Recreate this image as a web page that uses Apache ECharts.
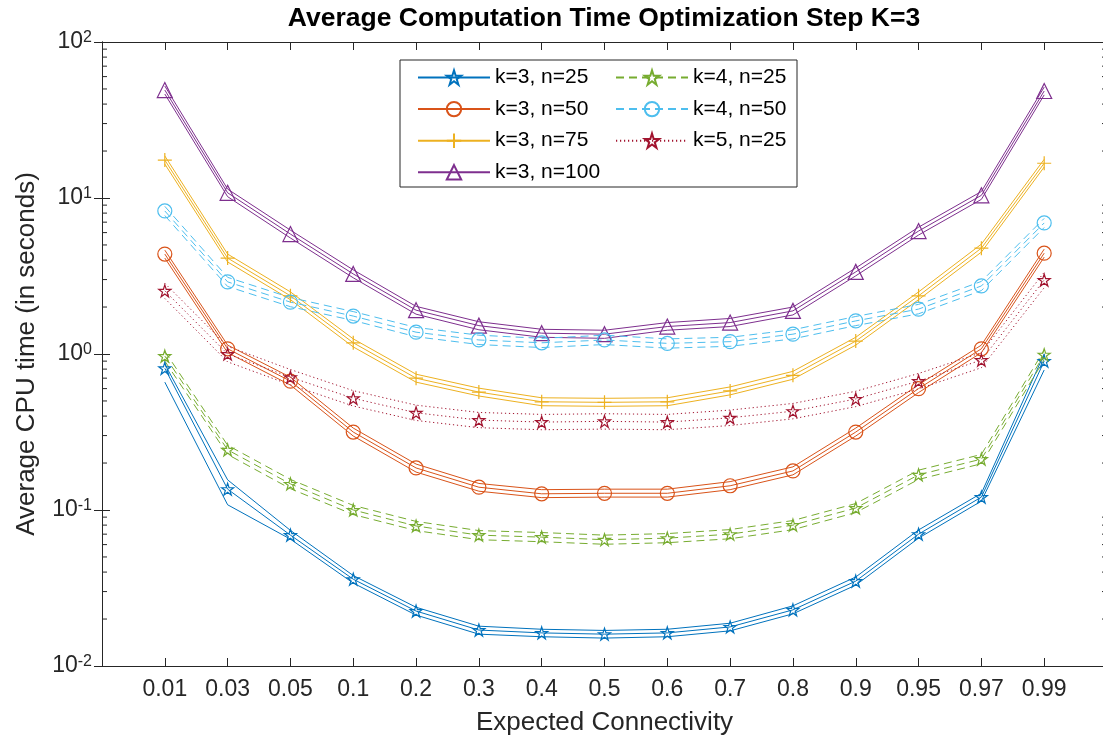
<!DOCTYPE html>
<html><head><meta charset="utf-8">
<script src="https://cdn.jsdelivr.net/npm/echarts@6/dist/echarts.min.js"></script>
<style>html,body{margin:0;padding:0;background:#fff;overflow:hidden}#c{width:1103px;height:743px}</style>
</head><body><div id="c"></div><script>
const categories = ['0.01','0.03','0.05','0.1','0.2','0.3','0.4','0.5','0.6','0.7','0.8','0.9','0.95','0.97','0.99'];
const yTickLabels = ['10^-2','10^-1','10^0','10^1','10^2'];

// k=3, n=25
const k3n25 = [0.81,0.136,0.069,0.036,0.0225,0.017,0.0163,0.016,0.0163,0.0178,0.0229,0.035,0.070,0.121,0.90];
const k3n25Hi = [0.86,0.156,0.074,0.038,0.0238,0.0180,0.0172,0.0169,0.0172,0.0188,0.0243,0.0372,0.0745,0.128,1.0];
const k3n25Lo = [0.66,0.108,0.065,0.034,0.0212,0.0160,0.0154,0.0151,0.0154,0.0168,0.0216,0.033,0.066,0.114,0.79];
// k=3, n=50
const k3n50 = [4.37,1.08,0.67,0.316,0.186,0.14,0.127,0.128,0.128,0.143,0.178,0.316,0.60,1.08,4.43];
const k3n50Hi = [4.63,1.14,0.71,0.335,0.197,0.148,0.135,0.136,0.136,0.152,0.189,0.335,0.636,1.14,4.7];
const k3n50Lo = [4.12,1.02,0.632,0.298,0.175,0.132,0.12,0.121,0.121,0.135,0.168,0.298,0.566,1.02,4.18];
// k=3, n=75
const k3n75 = [17.5,4.12,2.36,1.18,0.70,0.57,0.494,0.49,0.494,0.58,0.73,1.21,2.36,4.77,16.7];
const k3n75Hi = [18.6,4.37,2.5,1.25,0.742,0.604,0.524,0.52,0.524,0.615,0.774,1.28,2.5,5.06,17.7];
const k3n75Lo = [16.5,3.89,2.23,1.11,0.66,0.538,0.466,0.462,0.466,0.547,0.689,1.14,2.23,4.5,15.8];
// k=3, n=100
const k3n100 = [49.2,10.8,5.87,3.26,1.91,1.52,1.36,1.34,1.50,1.59,1.89,3.36,6.14,10.4,48.5];
const k3n100Hi = [52.2,11.4,6.22,3.46,2.02,1.61,1.44,1.42,1.59,1.69,2.0,3.56,6.5,11.0,51.4];
const k3n100Lo = [46.4,10.2,5.54,3.08,1.80,1.43,1.28,1.26,1.42,1.50,1.78,3.17,5.79,9.8,45.8];
// k=4, n=25
const k4n25 = [0.97,0.243,0.147,0.10,0.079,0.069,0.067,0.0645,0.066,0.070,0.080,0.103,0.168,0.212,0.99];
const k4n25Hi = [1.04,0.26,0.157,0.107,0.0845,0.0738,0.0717,0.069,0.0706,0.0749,0.0856,0.11,0.18,0.227,1.06];
const k4n25Lo = [0.9,0.227,0.137,0.0935,0.0738,0.0645,0.0626,0.0603,0.0617,0.0654,0.0748,0.0963,0.157,0.198,0.92];
// k=4, n=50
const k4n50 = [8.26,2.90,2.15,1.75,1.38,1.23,1.18,1.23,1.17,1.2,1.34,1.63,1.94,2.73,6.92];
const k4n50Hi = [8.84,3.1,2.3,1.87,1.48,1.32,1.26,1.32,1.25,1.28,1.43,1.74,2.08,2.92,7.4];
const k4n50Lo = [7.72,2.71,2.01,1.64,1.29,1.15,1.1,1.15,1.09,1.12,1.25,1.52,1.81,2.55,6.47];
// k=5, n=25
const k5n25 = [2.54,1.0,0.71,0.52,0.42,0.377,0.366,0.37,0.366,0.39,0.43,0.515,0.67,0.915,2.98];
const k5n25Hi = [2.84,1.12,0.795,0.582,0.47,0.422,0.41,0.414,0.41,0.437,0.482,0.577,0.75,1.02,3.34];
const k5n25Lo = [2.27,0.89,0.634,0.464,0.375,0.337,0.327,0.33,0.327,0.348,0.384,0.46,0.598,0.817,2.66];

const STAR = 'path://M50 0 L61.23 34.55 L97.55 34.55 L68.17 55.9 L79.39 90.45 L50 69.1 L20.61 90.45 L31.83 55.9 L2.45 34.55 L38.77 34.55 Z';
const PLUS = 'path://M50 0 L50 100 M0 50 L100 50';
const FONT = 'Liberation Sans';
const TXT = '#262626';

const defs = [
  {name:'k=3, n=25', m:k3n25, hi:k3n25Hi, lo:k3n25Lo, c:'#0072BD', t:'solid', s:STAR, z:12},
  {name:'k=3, n=50', m:k3n50, hi:k3n50Hi, lo:k3n50Lo, c:'#D95319', t:'solid', s:'circle', z:14},
  {name:'k=3, n=75', m:k3n75, hi:k3n75Hi, lo:k3n75Lo, c:'#EDB120', t:'solid', s:PLUS, z:14},
  {name:'k=3, n=100', m:k3n100, hi:k3n100Hi, lo:k3n100Lo, c:'#7E2F8E', t:'solid', s:'triangle', z:15},
  {name:'k=4, n=25', m:k4n25, hi:k4n25Hi, lo:k4n25Lo, c:'#77AC30', t:[8,5], s:STAR, z:12},
  {name:'k=4, n=50', m:k4n50, hi:k4n50Hi, lo:k4n50Lo, c:'#4DBEEE', t:[8,5], s:'circle', z:14},
  {name:'k=5, n=25', m:k5n25, hi:k5n25Hi, lo:k5n25Lo, c:'#A2142F', t:[1.2,2.8], s:STAR, z:12}
];
const toPts = arr => arr.map((v,i)=>[i+1, v]);

const series = [];
defs.forEach(d=>{
  [['hi',d.hi],['lo',d.lo]].forEach(([k,arr])=>{
    series.push({type:'line', name:d.name+' '+k, data:toPts(arr), symbol:'none', silent:true,
      lineStyle:{color:d.c, width:1, type:d.t}, itemStyle:{color:d.c}, emphasis:{disabled:true}, z:2});
  });
  series.push({type:'line', name:d.name, data:toPts(d.m), symbol:d.s, symbolSize:d.z, showSymbol:true, silent:true,
    lineStyle:{color:d.c, width:1, type:d.t},
    itemStyle:{color:'rgba(0,0,0,0)', borderColor:d.c, borderWidth:1.2},
    emphasis:{disabled:true}, z:3});
});

const minorVals = [];
for (let e=-2; e<=1; e++) for (let m=2; m<=9; m++) minorVals.push(m*Math.pow(10,e));
series.push({type:'custom', silent:true, z:5, clip:false,
  data: minorVals.map(v=>[0,v]),
  renderItem:(params, api)=>{
    const v = api.value(1);
    const p = api.coord([0, v]); const q = api.coord([16, v]);
    return {type:'group', children:[
      {type:'line', shape:{x1:p[0], y1:p[1], x2:p[0]+5, y2:p[1]}, style:{stroke:TXT, lineWidth:1}},
      {type:'line', shape:{x1:q[0]-5, y1:q[1], x2:q[0], y2:q[1]}, style:{stroke:TXT, lineWidth:1}}
    ]};
  }});

const legendCommon = {orient:'vertical', itemWidth:72, itemHeight:18, itemGap:10.6, padding:0, selectedMode:false,
  textStyle:{fontSize:21, color:'#000', fontFamily:FONT}};

const chart = echarts.init(document.getElementById('c'), null, {renderer:'canvas'});
chart.setOption({
  animation:false,
  backgroundColor:'#fff',
  textStyle:{fontFamily:FONT},
  grid:{left:102, top:42, width:1005, height:624, containLabel:false, outerBoundsMode:'none'},
  graphic:[
    {type:'text', x:604, y:5, style:{text:'Average Computation Time Optimization Step K=3', fill:'#000', font:'bold 26.5px "Liberation Sans"', textAlign:'center', textVerticalAlign:'top'}},
    {type:'rect', x:400, y:60, shape:{width:397, height:127}, style:{fill:'#fff', stroke:TXT, lineWidth:1}, z:10}
  ],
  legend:[
    Object.assign({data:defs.slice(0,4).map(d=>d.name), left:417, top:67, z:11}, legendCommon),
    Object.assign({data:defs.slice(4).map(d=>d.name), left:615, top:67, z:11}, legendCommon)
  ],
  xAxis:[
    {type:'value', min:0, max:16, interval:1, position:'bottom',
     name:'Expected Connectivity', nameLocation:'middle', nameGap:44, nameTextStyle:{fontSize:26, color:TXT, fontFamily:FONT},
     axisLine:{lineStyle:{color:TXT, width:1}}, axisTick:{inside:true, length:8, lineStyle:{color:TXT}},
     axisLabel:{color:TXT, fontSize:23, margin:12, fontFamily:FONT, showMinLabel:true, showMaxLabel:true, hideOverlap:false,
       formatter:v=> (v>=1 && v<=15) ? categories[v-1] : ''},
     splitLine:{show:false}},
    {type:'value', min:0, max:16, interval:1, position:'top',
     axisLine:{lineStyle:{color:TXT, width:1}}, axisTick:{inside:true, length:8, lineStyle:{color:TXT}},
     axisLabel:{show:false}, splitLine:{show:false}}
  ],
  yAxis:[
    {type:'log', logBase:10, min:0.01, max:100, position:'left',
     name:'Average CPU time (in seconds)', nameLocation:'middle', nameGap:62, nameTextStyle:{fontSize:26, color:TXT, fontFamily:FONT},
     axisLine:{show:true, lineStyle:{color:TXT, width:1}}, axisTick:{show:true, inside:true, length:8, lineStyle:{color:TXT}},
     axisLabel:{margin:10, formatter:v=>{
        const e = Math.round(Math.log10(v));
        const lbl = yTickLabels.find(s=>s==='10^'+e) || ('10^'+e);
        return '{b|10}{s|'+lbl.split('^')[1]+'}';
      },
      rich:{b:{fontSize:23, color:TXT, fontFamily:FONT, lineHeight:24}, s:{fontSize:16, color:TXT, fontFamily:FONT, verticalAlign:'top', lineHeight:16}}},
     splitLine:{show:false}},
    {type:'log', logBase:10, min:0.01, max:100, position:'right',
     axisLine:{show:true, lineStyle:{color:TXT, width:1}}, axisTick:{show:true, inside:true, length:8, lineStyle:{color:TXT}},
     axisLabel:{show:false}, splitLine:{show:false}}
  ],
  series: series
});
</script></body></html>
